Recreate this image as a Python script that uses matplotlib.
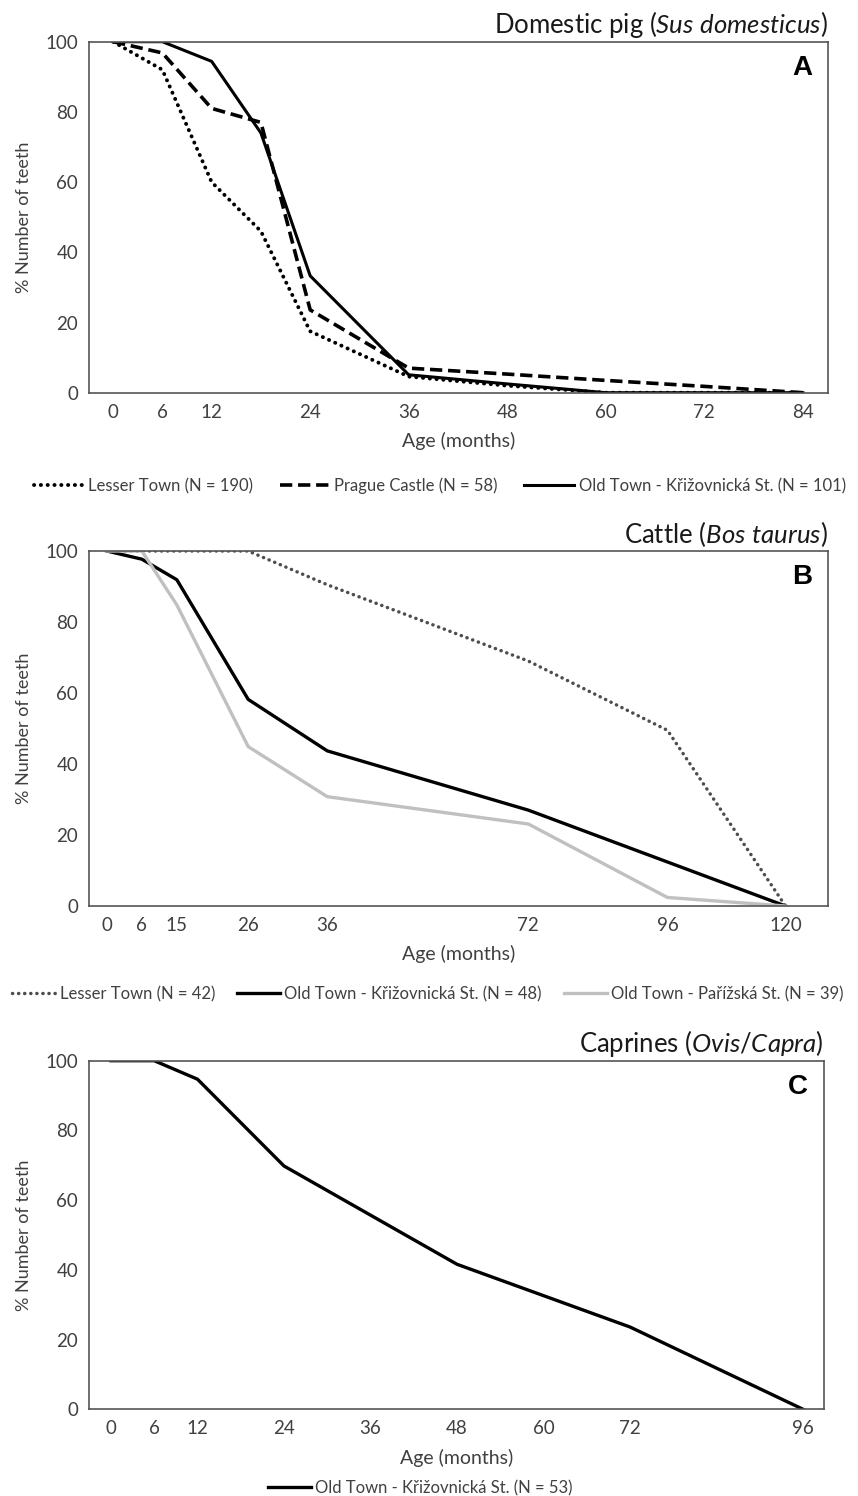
import numpy as np
import matplotlib
matplotlib.use("Agg")
import matplotlib.pyplot as plt

plt.rcParams['font.family'] = ['Lato', 'DejaVu Sans']
plt.rcParams['mathtext.fontset'] = 'custom'
plt.rcParams['mathtext.rm'] = 'Lato'
plt.rcParams['mathtext.it'] = 'Lato:italic'

# ---- data ----
# A: domestic pig
pig_age = [0, 6, 12, 18, 24, 36, 48, 60, 72, 84]
pig_lesser = [100, 92, 60, 46, 17.5, 4.6, 2, 0, 0, 0]
pig_castle = [100, 96.8, 81, 77, 23.6, 7, 5.3, 3.5, 1.8, 0]
pig_oldtown = [100, 100, 94.4, 74, 33.3, 5.1, 2.5, 0, 0, 0]
pig_ticks = [0, 6, 12, 24, 36, 48, 60, 72, 84]

# B: cattle
cat_ticks = [0, 6, 15, 26, 36, 72, 96, 120]
cat_lesser_age = [0, 6, 15, 26, 36, 72, 96, 120]
cat_lesser = [100, 100, 100, 100, 90.5, 69, 49.5, 0]
cat_kriz_age = [0, 6, 15, 26, 36, 72, 120]
cat_kriz = [100, 97.7, 91.9, 58.2, 43.7, 27, 0]
cat_pariz_age = [0, 6, 15, 26, 36, 72, 96, 120]
cat_pariz = [100, 100, 84.8, 44.9, 30.8, 23.1, 2.4, 0]

# C: caprines
cap_age = [0, 6, 12, 24, 48, 72, 96]
cap_kriz = [100, 100, 94.7, 69.8, 41.6, 23.6, 0]
cap_ticks = [0, 6, 12, 24, 36, 48, 60, 72, 96]

yticks = [0, 20, 40, 60, 80, 100]

# ---- layout ----
W, H = 858, 1496
fig = plt.figure(figsize=(W / 100, H / 100), dpi=100)

def px_axes(l, t, r, b):
    return fig.add_axes([l / W, 1 - b / H, (r - l) / W, (b - t) / H])

axA = px_axes(89.3, 41.7, 828.3, 392.7)
axB = px_axes(89.3, 551, 828.3, 906)
axC = px_axes(89.3, 1060.7, 824, 1409.3)

# irregular spacing of the cattle age axis (as in the original)
b_tick_px = [106.7, 141.7, 176.7, 248, 327, 528, 667, 785]
mk = [-40] + cat_ticks + [170]
pk = [b_tick_px[0] - 40 * 35 / 6] + b_tick_px + [b_tick_px[-1] + 50 * 118 / 24]

def b_fwd(x):
    return np.interp(x, mk, pk)

def b_inv(p):
    return np.interp(p, pk, mk)

axB.set_xscale('function', functions=(b_fwd, b_inv))

txt = '#404040'
dot = (0, (0.05, 1.7))
dash = (0, (3.4, 1.6))

def style(ax, xticks, xlim, title, letter):
    ax.set_xlim(*xlim)
    ax.set_ylim(0, 100)
    ax.set_xticks(xticks)
    ax.set_xticklabels([str(t) for t in xticks])
    ax.set_yticks(yticks)
    ax.xaxis.set_minor_locator(matplotlib.ticker.NullLocator())
    ax.tick_params(length=0, labelsize=13.5, colors=txt)
    ax.tick_params(axis='x', pad=8)
    ax.tick_params(axis='y', pad=8)
    for s in ax.spines.values():
        s.set_color('#555555')
        s.set_linewidth(1.2)
    ax.set_xlabel('Age (months)', fontsize=14, color=txt, labelpad=8)
    ax.set_ylabel('% Number of teeth', fontsize=13, color=txt)
    ax.yaxis.set_label_coords(-0.078, 0.5)
    ax.set_title(title, loc='right', fontsize=18.5, color='#1a1a1a', pad=6)
    ax.text(0.978, 0.962, letter, transform=ax.transAxes, ha='right', va='top',
            fontsize=20, fontweight='bold', family='Liberation Sans', color='black')

# A
axA.plot(pig_age, pig_lesser, color='black', lw=2.8, linestyle=dot,
         dash_capstyle='round', label='Lesser Town (N = 190)')
axA.plot(pig_age, pig_castle, color='black', lw=2.6, linestyle=dash,
         label='Prague Castle (N = 58)')
axA.plot(pig_age, pig_oldtown, color='black', lw=2.2,
         label='Old Town - Křižovnická St. (N = 101)')
style(axA, pig_ticks, (-2.9, 87.1), r'Domestic pig ($\it{Sus\ domesticus}$)', 'A')

# B
axB.plot(cat_lesser_age, cat_lesser, color='#4d4d4d', lw=2.5, linestyle=dot,
         dash_capstyle='round', label='Lesser Town (N = 42)')
axB.plot(cat_kriz_age, cat_kriz, color='black', lw=2.4,
         label='Old Town - Křižovnická St. (N = 48)')
axB.plot(cat_pariz_age, cat_pariz, color='#c0c0c0', lw=2.4,
         label='Old Town - Pařížská St. (N = 39)')
style(axB, cat_ticks, (-3.0, 128.7), r'Cattle ($\it{Bos\ taurus}$)', 'B')

# C
axC.plot(cap_age, cap_kriz, color='black', lw=2.4,
         label='Old Town - Křižovnická St. (N = 53)')
style(axC, cap_ticks, (-3.0, 98.9), r'Caprines ($\it{Ovis/Capra}$)', 'C')

def legend(ax, cx, cy, colsp, hl):
    ax.legend(loc='center', bbox_to_anchor=(cx / W, 1 - cy / H),
              bbox_transform=fig.transFigure, ncol=3, frameon=False,
              fontsize=12, handlelength=hl, handletextpad=0.25,
              columnspacing=colsp, labelcolor=txt)

legend(axA, 440, 486, 1.6, 3.0)
legend(axB, 428, 994, 1.3, 2.6)
legend(axC, 420, 1488, 1.6, 2.6)

fig.savefig('out.png', dpi=100)
